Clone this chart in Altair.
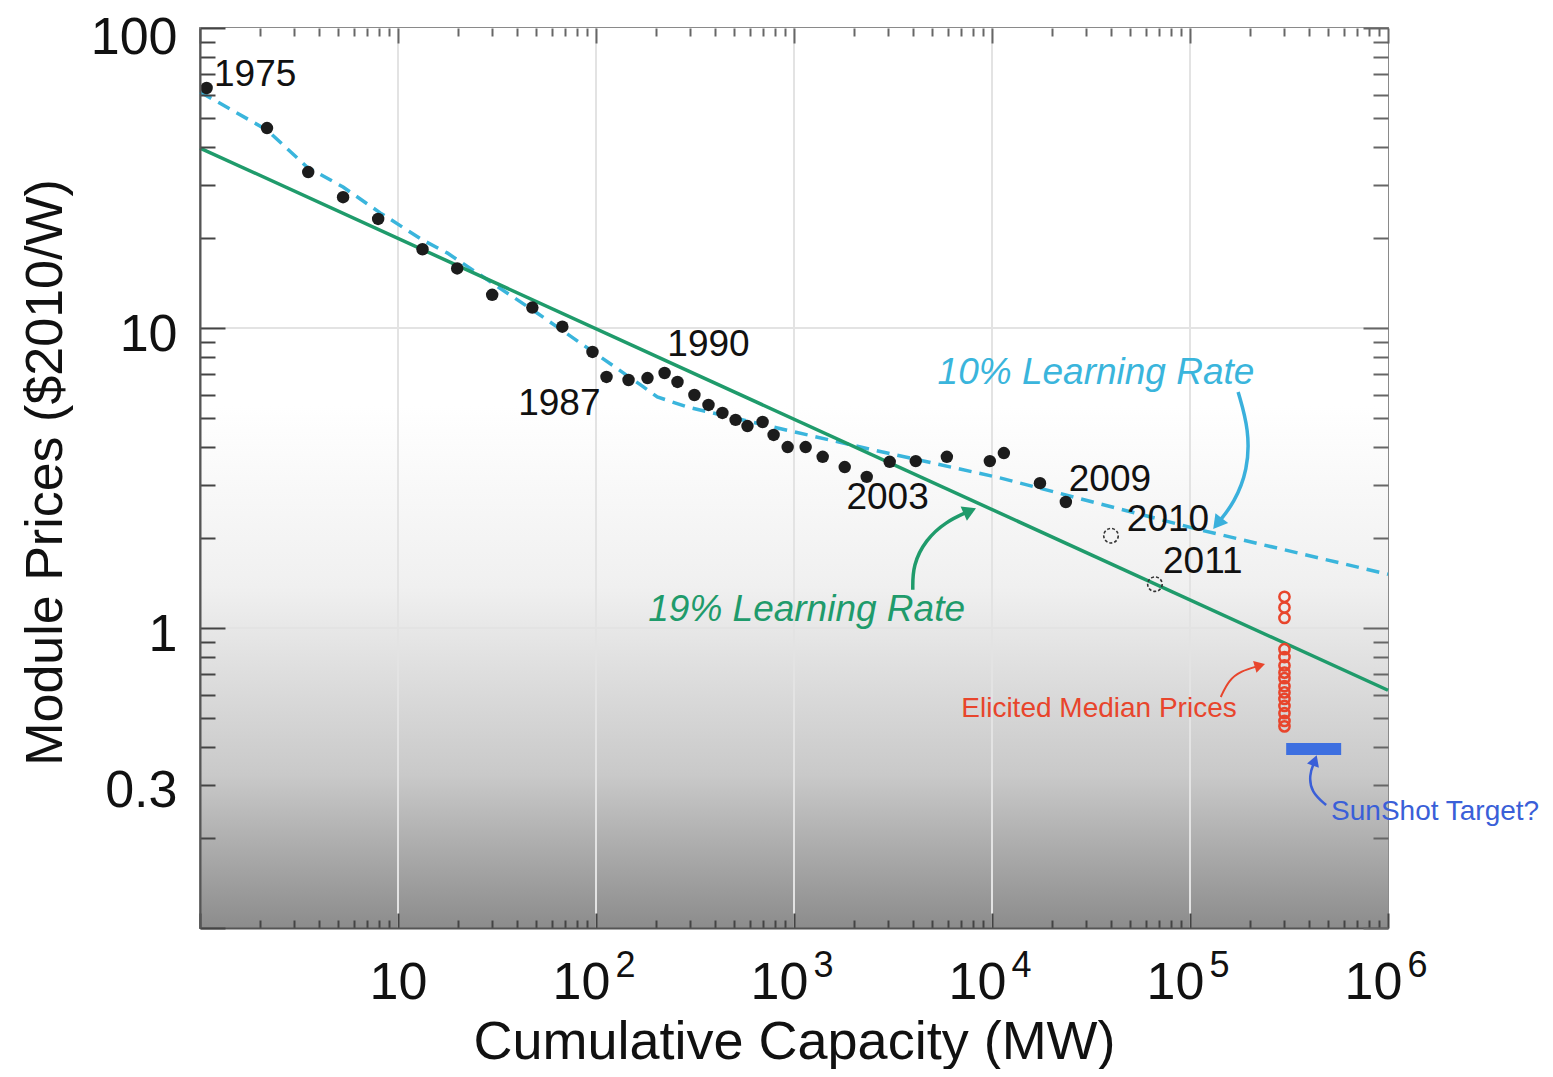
import json
import altair as alt
import pandas as pd

# ---------------- data ----------------
years = list(range(1975, 2010))
cum_capacity_mw = [1.08, 2.18, 3.52, 5.28, 7.94, 13.3, 19.9, 29.9, 47.7, 67.6,
                   96, 113, 146, 182, 222, 258, 314, 370, 435, 507,
                   582, 694, 789, 929, 1145, 1396, 1804, 2330, 3043, 4120,
                   5915, 9750, 11480, 17470, 23600]
module_price = [63.1, 46.4, 33.1, 27.3, 23.1, 18.3, 15.8, 12.9, 11.7, 10.1,
                8.32, 6.87, 6.71, 6.81, 7.08, 6.61, 5.98, 5.54, 5.21, 4.94,
                4.71, 4.86, 4.40, 4.01, 4.01, 3.72, 3.44, 3.19, 3.58, 3.60,
                3.72, 3.60, 3.83, 3.04, 2.63]

open_x = [39900, 66500]          # 2010, 2011 (estimates)
open_y = [2.03, 1.40]

lr19_x = [1, 1000000]            # 19% learning-rate line
lr19_y = [39.8, 0.62]

lr10_x = [1, 2.18, 3.47, 5.28, 8.13, 13.4, 17.7, 50.6, 93.7, 168, 204, 290,
          826, 2525, 11090, 113700, 1000000]
lr10_y = [61.2, 45.7, 34.4, 29.5, 24.2, 19.6, 17.8, 11.2, 8.45, 6.46, 5.89,
          5.45, 4.64, 3.92, 3.16, 2.12, 1.51]

elicited_x = 300000
elicited_y = [1.27, 1.17, 1.08, 0.85, 0.80, 0.75, 0.71, 0.68, 0.64, 0.61,
              0.58, 0.55, 0.52, 0.49, 0.47]

sunshot_x = [306000, 580000]
sunshot_y = [0.377, 0.414]

year_label_text = ["1975", "1987", "1990", "2003", "2009", "2010", "2011"]
year_label_x = [1.90, 65.3, 370, 2970, 39400, 77400, 116000]
year_label_y = [69.7, 5.58, 8.78, 2.71, 3.11, 2.29, 1.66]

# arrows (paths in data units)
arrow10_x = [175000, 199000, 196000, 167000, 140000]
arrow10_y = [6.12, 4.57, 3.36, 2.61, 2.26]
arrow19_x = [3980, 3980, 4630, 5840, 7550]
arrow19_y = [1.34, 1.62, 1.97, 2.26, 2.44]
arrowred_x = [143000, 157000, 181000, 221000]
arrowred_y = [0.589, 0.671, 0.719, 0.747]
arrowblue_x = [487000, 409000, 400000, 424000]
arrowblue_y = [0.257, 0.284, 0.324, 0.357]

x_label_values = [10, 100, 1000, 10000, 100000, 1000000]
x_exp_values = [100, 1000, 10000, 100000, 1000000]
x_exp_labels = ["2", "3", "4", "5", "6"]
y_label_values = [100, 10, 1, 0.3]
y_label_text = ["100", "10", "1", "0.3"]
x_grid_values = [10, 100, 1000, 10000, 100000]
y_grid_values = [10, 1]

x_ticks = [k * 10 ** d for d in range(6) for k in range(1, 10)] + [10 ** 6]
y_ticks = [round(k * 10.0 ** d, 10) for d in (-1, 0, 1) for k in range(1, 10)] + [100]

# ---------------- styling ----------------
FONT = "Liberation Sans"
W, H = 1188, 900
xs = alt.Scale(type="log", domain=[1, 1000000], nice=False)
ys = alt.Scale(type="log", domain=[0.1, 100], nice=False)

def X(**kw):
    return alt.X("x:Q", scale=xs, **kw)

def Y(**kw):
    return alt.Y("y:Q", scale=ys, **kw)

def df(xv, yv, **extra):
    d = pd.DataFrame({"x": xv, "y": yv})
    for k, v in extra.items():
        d[k] = v
    d["o"] = range(len(d))
    return d

grad = alt.LinearGradient(
    gradient="linear", x1=0, x2=0, y1=0, y2=1,
    stops=[alt.GradientStop(offset=0, color="#ffffff"),
           alt.GradientStop(offset=0.42, color="#ffffff"),
           alt.GradientStop(offset=0.62, color="#f0f0f0"),
           alt.GradientStop(offset=0.83, color="#c9c9c9"),
           alt.GradientStop(offset=1, color="#8c8c8c")])

layers = []

# background gradient
layers.append(alt.Chart(pd.DataFrame({"a": [0]})).mark_rect(fill=grad).encode(
    x=alt.value(0), x2=alt.value(W), y=alt.value(0), y2=alt.value(H)))

# grid lines
layers.append(alt.Chart(pd.DataFrame({"x": x_grid_values})).mark_rule(
    color="#e3e3e3", strokeWidth=2).encode(x=X(axis=None)))
layers.append(alt.Chart(pd.DataFrame({"y": y_grid_values})).mark_rule(
    color="#e3e3e3", strokeWidth=2).encode(y=Y(axis=None)))

# learning-rate lines
layers.append(alt.Chart(df(lr10_x, lr10_y)).mark_line(
    color="#3ab5dc", strokeWidth=3.5, strokeDash=[13, 8]
).encode(x=X(axis=None), y=Y(axis=None), order="o:Q"))
layers.append(alt.Chart(df(lr19_x, lr19_y)).mark_line(
    color="#1f9b6b", strokeWidth=3.5
).encode(x=X(axis=None), y=Y(axis=None)))

# historic prices
layers.append(alt.Chart(df(cum_capacity_mw, module_price, year=years)).mark_circle(
    size=155, color="#1c1c1c", opacity=1
).encode(x=X(axis=None), y=Y(axis=None)))

# 2010 / 2011 open dashed circles
layers.append(alt.Chart(df(open_x, open_y)).mark_point(
    shape="circle", size=210, filled=False, stroke="#333333", strokeWidth=1.6,
    strokeDash=[3, 2], opacity=1
).encode(x=X(axis=None), y=Y(axis=None)))

# elicited prices
layers.append(alt.Chart(df([elicited_x] * len(elicited_y), elicited_y)).mark_point(
    shape="circle", size=105, filled=False, stroke="#e8452c", strokeWidth=2.5, opacity=1
).encode(x=X(axis=None), y=Y(axis=None)))

# SunShot target bar
sun_df = pd.DataFrame({"x": [sunshot_x[0]], "x2": [sunshot_x[1]],
                       "y": [sunshot_y[0]], "y2": [sunshot_y[1]]})
layers.append(alt.Chart(sun_df).mark_rect(color="#3d6fe0").encode(
    x=X(axis=None), x2="x2:Q", y=Y(axis=None), y2="y2:Q"))

# arrows
def arrow(xv, yv, color, angle, width=3, head=190):
    d = df(xv, yv)
    line = alt.Chart(d).mark_line(color=color, strokeWidth=width, interpolate="basis").encode(
        x=X(axis=None), y=Y(axis=None), order="o:Q")
    tip = alt.Chart(d.tail(1)).mark_point(shape="triangle", filled=True, color=color,
                                          size=head, angle=angle, opacity=1).encode(
        x=X(axis=None), y=Y(axis=None))
    return [line, tip]

layers += arrow(arrow10_x, arrow10_y, "#3ab0dc", 218, 3.5, 260)
layers += arrow(arrow19_x, arrow19_y, "#1f9b6b", 66, 3.5, 240)
layers += arrow(arrowred_x, arrowred_y, "#e8452c", 74, 2, 150)
layers += arrow(arrowblue_x, arrowblue_y, "#3a5fd8", 20, 2.5, 160)

# year labels
layers.append(alt.Chart(df(year_label_x, year_label_y, label=year_label_text)).mark_text(
    font=FONT, fontSize=37, color="#111111", align="center", baseline="middle"
).encode(x=X(axis=None), y=Y(axis=None), text="label:N"))

def note(text, xv, yv, color, size, italic=False):
    kw = dict(font=FONT, fontSize=size, color=color, align="center", baseline="middle")
    if italic:
        kw["fontStyle"] = "italic"
    return alt.Chart(df([xv], [yv], label=[text])).mark_text(**kw).encode(
        x=X(axis=None), y=Y(axis=None), text="label:N")

layers.append(note("10% Learning Rate", 33500, 7.08, "#3ab5dc", 37, True))
layers.append(note("19% Learning Rate", 1158, 1.15, "#1f9b6b", 37, True))
layers.append(note("Elicited Median Prices", 34700, 0.537, "#e8452c", 28))
layers.append(note("SunShot Target?", 1730000, 0.244, "#3a5fd8", 28))

# ---------------- axes ----------------
ax_df = pd.DataFrame({"x": [1], "y": [1]})
major_x = "indexof([1,10,100,1000,10000,100000,1000000], datum.value) >= 0"
major_y = "indexof([0.1,1,10,100], datum.value) >= 0"

def axis_layer(channel, axis):
    enc = {"x": X(axis=axis)} if channel == "x" else {"y": Y(axis=axis)}
    return alt.Chart(ax_df).mark_point(opacity=0).encode(**enc)

# x labels "10" + title
layers.append(axis_layer("x", alt.Axis(
    orient="bottom", values=x_label_values, labelExpr="'10'", zindex=1,
    labelFont=FONT, labelFontSize=52, labelColor="#111111", labelPadding=29,
    labelOffset={"condition": {"test": "datum.value == 10", "value": 0}, "value": -15},
    labelFlush=False, labelOverlap=False, ticks=False, tickSize=0, domain=False, grid=False,
    title="Cumulative Capacity (MW)", titleFont=FONT, titleFontSize=54,
    titleFontWeight="normal", titleColor="#111111", titleY=114, titleBaseline="middle")))
# exponents
layers.append(axis_layer("x", alt.Axis(
    orient="bottom", values=x_exp_values, zindex=1,
    labelExpr=f"{json.dumps(x_exp_labels)}[indexof({json.dumps(x_exp_values)}, datum.value)]",
    labelFont=FONT, labelFontSize=36, labelColor="#111111", labelPadding=20, labelOffset=29,
    labelFlush=False, labelOverlap=False, ticks=False, tickSize=0, domain=False, grid=False,
    title="")))
# inward ticks at bottom edge
layers.append(axis_layer("x", alt.Axis(
    orient="top", offset=-H, values=x_ticks, labels=False, grid=False, zindex=1,
    domain=True, domainColor="#555555", domainWidth=2,
    ticks=True, tickColor="#444444", tickWidth=2,
    tickSize={"condition": {"test": major_x, "value": 15}, "value": 8}, title="")))
# inward ticks at top edge
layers.append(axis_layer("x", alt.Axis(
    orient="bottom", offset=-H, values=x_ticks, labels=False, grid=False, domain=False,
    zindex=1, ticks=True, tickColor="#666666", tickWidth=2,
    tickSize={"condition": {"test": major_x, "value": 15}, "value": 8}, title="")))

# y labels + title
layers.append(axis_layer("y", alt.Axis(
    orient="left", values=y_label_values, zindex=1,
    labelExpr=f"{json.dumps(y_label_text)}[indexof({json.dumps(y_label_values)}, datum.value)]",
    labelFont=FONT, labelFontSize=52, labelColor="#111111", labelPadding=23,
    labelOffset={"condition": {"test": "datum.value == 100", "value": 9}, "value": 6},
    labelBaseline="middle", labelOverlap=False, labelFlush=False,
    ticks=False, tickSize=0, domain=False, grid=False,
    title="Module Prices ($2010/W)", titleFont=FONT, titleFontSize=52,
    titleFontWeight="normal", titleColor="#111111", titleX=-155, titleY=444,
    titleBaseline="middle", titleAngle=270)))
# inward ticks on left edge
layers.append(axis_layer("y", alt.Axis(
    orient="right", offset=-W, values=y_ticks, labels=False, grid=False, zindex=1,
    domain=True, domainColor="#555555", domainWidth=2,
    ticks=True, tickColor="#444444", tickWidth=2,
    tickSize={"condition": {"test": major_y, "value": 25}, "value": 15}, title="")))
# inward ticks on right edge
layers.append(axis_layer("y", alt.Axis(
    orient="left", offset=-W, values=y_ticks, labels=False, grid=False, domain=False,
    zindex=1, ticks=True, tickColor="#666666", tickWidth=2,
    tickSize={"condition": {"test": major_y, "value": 25}, "value": 15}, title="")))

chart = alt.layer(*layers).resolve_axis(x="independent", y="independent").properties(
    width=W, height=H,
    autosize=alt.AutoSizeParams(type="none"),
    padding={"left": 192, "top": 20, "right": 156, "bottom": 141},
).configure(font=FONT).configure_view(stroke="#8a8a8a", strokeWidth=2)

chart.save("out.html", embed_options={"renderer": "svg", "actions": False})
